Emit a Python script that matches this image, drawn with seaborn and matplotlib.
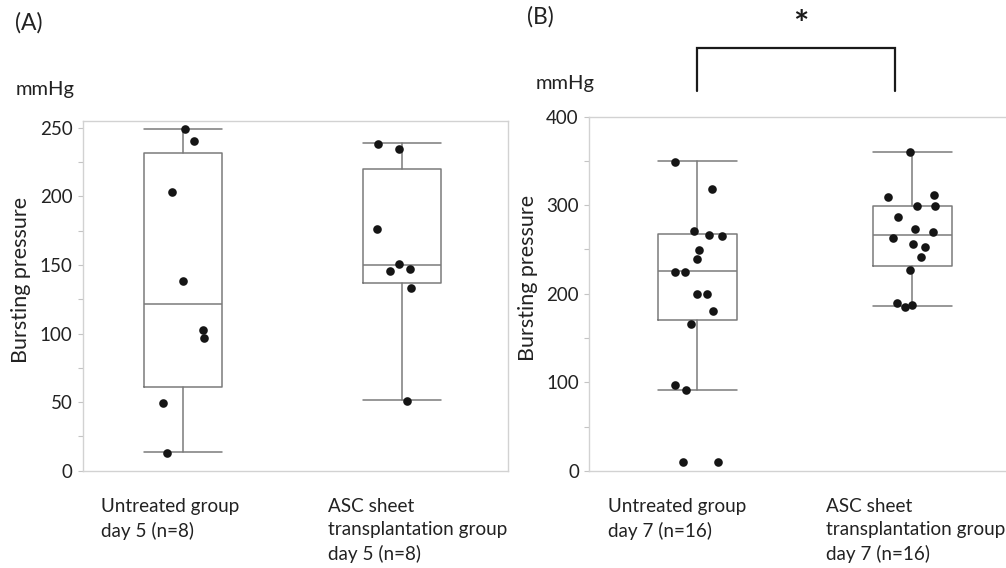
import numpy as np
import pandas as pd
import matplotlib
matplotlib.use("Agg")
import matplotlib.pyplot as plt
import matplotlib.transforms as mtransforms
from matplotlib.ticker import MultipleLocator
import seaborn as sns

# ---------------- data ----------------
groups_a = ["Untreated group\nday 5 (n=8)",
            "ASC sheet\ntransplantation group\nday 5 (n=8)"]
groups_b = ["Untreated group\nday 7 (n=16)",
            "ASC sheet\ntransplantation group\nday 7 (n=16)"]

untreated_d5 = [249.5, 240.7, 203.0, 138.0, 102.5, 96.6, 49.7, 13.1]
asc_d5 = [238.3, 234.9, 176.0, 150.4, 147.3, 145.3, 133.4, 51.1]
untreated_d7 = [349.2, 318.7, 270.4, 266.6, 264.7, 249.6, 239.1, 225.1, 225.1,
                199.4, 199.4, 180.6, 166.2, 96.4, 90.8, 9.6, 9.6]
asc_d7 = [360.1, 311.1, 309.6, 299.0, 299.0, 286.5, 272.6, 270.0, 262.8,
          256.4, 253.0, 241.7, 227.0, 189.1, 187.0, 185.0]

# box statistics as drawn: lower whisker, Q1, median, Q3, upper whisker
box_a_low = [13.4, 51.4]
box_a_q1 = [61.3, 137.0]
box_a_med = [121.2, 149.7]
box_a_q3 = [231.7, 220.3]
box_a_high = [249.5, 238.6]

box_b_low = [91.0, 186.2]
box_b_q1 = [170.8, 231.5]
box_b_med = [225.8, 266.3]
box_b_q3 = [267.4, 299.0]
box_b_high = [350.0, 360.0]

yticks_a = [0, 50, 100, 150, 200, 250]
yticks_b = [0, 100, 200, 300, 400]
# --------------------------------------

sns.set_theme(style="white")
plt.rcParams["font.family"] = ["Lato", "DejaVu Sans"]

W, H = 1006, 568
fig = plt.figure(figsize=(W / 100, H / 100), dpi=100)
fig.patch.set_facecolor("white")


def rect(l, r, t, b):
    return [l / W, (H - b) / H, (r - l) / W, (b - t) / H]


ax_a = fig.add_axes(rect(83, 508, 121, 470.7))
ax_b = fig.add_axes(rect(589.3, 1010, 116.7, 470.8))

box_col = "#7a7a7a"
dot_col = "#151515"
spine_col = "#d2d2d2"
text_col = "#222222"


def draw_panel(ax, labels, values, lows, q1s, meds, q3s, highs, yticks,
               ylim, xlim, minor, width, label_offsets, seed):
    df = pd.DataFrame({
        "group": np.repeat(labels, [len(v) for v in values]),
        "value": np.concatenate(values),
    })
    stats = []
    for lo, q1, me, q3, hi in zip(lows, q1s, meds, q3s, highs):
        stats.append(dict(whislo=lo, q1=q1, med=me, q3=q3, whishi=hi, fliers=[]))
    lp = dict(color=box_col, linewidth=1.1)
    ax.bxp(stats, positions=[0, 1], widths=width, showfliers=False,
           boxprops=lp, whiskerprops=lp, capprops=lp, medianprops=lp,
           capwidths=width, manage_ticks=False, zorder=1)
    np.random.seed(seed)
    sns.stripplot(data=df, x="group", y="value", order=labels, jitter=0.12,
                  size=6.2, color=dot_col, linewidth=0, ax=ax, zorder=3)
    ax.set_xlim(*xlim)
    ax.set_ylim(*ylim)
    ax.set_yticks(yticks)
    ax.yaxis.set_minor_locator(MultipleLocator(minor))
    ax.set_xticks([])
    ax.set_xlabel("")
    ax.set_ylabel("Bursting pressure", fontsize=15.5, color=text_col)
    ax.yaxis.set_label_coords(-0.122, 0.545)
    ax.tick_params(axis="y", which="both", direction="out", length=3.5,
                   width=0.8, color="#c4c4c4", labelsize=13.5,
                   labelcolor=text_col, pad=4, left=True)
    for s in ax.spines.values():
        s.set_color(spine_col)
        s.set_linewidth(1.0)
    trans = mtransforms.blended_transform_factory(ax.transData, fig.transFigure)
    for i, (lab, off) in enumerate(zip(labels, label_offsets)):
        ax.text(i + off, 1 - 498 / H, lab, transform=trans, ha="left",
                va="top", fontsize=13.6, color=text_col, linespacing=1.45)


draw_panel(ax_a, groups_a, [untreated_d5, asc_d5], box_a_low, box_a_q1,
           box_a_med, box_a_q3, box_a_high, yticks_a, (0, 255),
           (-0.455, 1.485), 25, 0.356, (-0.373, -0.337), 3)
draw_panel(ax_b, groups_b, [untreated_d7, asc_d7], box_b_low, box_b_q1,
           box_b_med, box_b_q3, box_b_high, yticks_b, (0, 400),
           (-0.503, 1.456), 50, 0.368, (-0.416, -0.40), 7)

# significance bracket in panel B
ax_b.plot([0.0, 0.0, 0.92, 0.92], [429, 478, 478, 429], color="#1a1a1a",
          linewidth=1.6, clip_on=False, solid_joinstyle="miter")
ax_b.text(0.483, 503, "*", ha="center", va="center", fontsize=26,
          fontweight="bold", color="#1a1a1a", clip_on=False)

# panel letters and units
fig.text(15 / W, 1 - 23 / H, "(A)", ha="left", va="center", fontsize=16.5,
         color=text_col)
fig.text(527 / W, 1 - 17 / H, "(B)", ha="left", va="center", fontsize=16.5,
         color=text_col)
fig.text(16 / W, 1 - 89 / H, "mmHg", ha="left", va="center", fontsize=14.5,
         color=text_col)
fig.text(536 / W, 1 - 83 / H, "mmHg", ha="left", va="center", fontsize=14.5,
         color=text_col)

fig.savefig("out.png", dpi=100, facecolor="white")
